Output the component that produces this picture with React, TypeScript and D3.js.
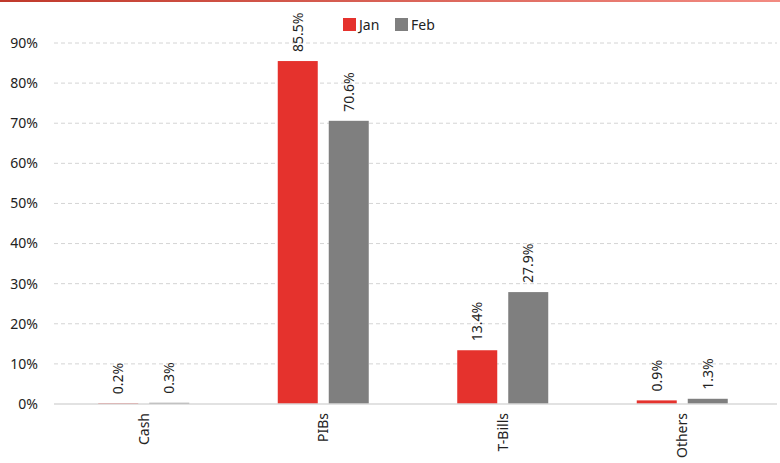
import React from "react";
import * as d3 from "d3";

const categories = ["Cash", "PIBs", "T-Bills", "Others"];
const seriesNames = ["Jan", "Feb"];
const janValues = [0.2, 85.5, 13.4, 0.9];
const febValues = [0.3, 70.6, 27.9, 1.3];
const yTicks = [0, 10, 20, 30, 40, 50, 60, 70, 80, 90];
const colors = ["#e5322d", "#7f7f7f"];

const W = 780;
const H = 463;
const m = { left: 54, right: 8, top: 43, bottom: 59 };
const gridRight = 777;

export default function App() {
  const x = d3.scaleBand().domain(categories).range([m.left, W - m.right]).padding(0);
  const y = d3.scaleLinear().domain([0, 90]).range([H - m.bottom, m.top]);
  const barW = 40;
  const gap = 11;
  const series = [janValues, febValues];
  const font = "'Noto Sans', sans-serif";
  const fs = 14;
  return (
    <svg width={W} height={H} style={{ position: "absolute", left: 0, top: 0 }} fontFamily={font}>
      <defs>
        <linearGradient id="topline" x1="0" x2="1" y1="0" y2="0">
          <stop offset="0" stopColor="#c0392b" />
          <stop offset="1" stopColor="#f28b82" />
        </linearGradient>
      </defs>
      <rect x={0} y={0} width={W} height={2} fill="url(#topline)" />
      {yTicks.map((t) => (
        <g key={t}>
          {t > 0 && (
            <line x1={m.left} x2={gridRight} y1={y(t)} y2={y(t)} stroke="#d4d4d4" strokeDasharray="4,3" />
          )}
          <text x={38} y={y(t)} dy="0.35em" textAnchor="end" fontSize={fs} fill="#222">
            {t}%
          </text>
        </g>
      ))}
      {categories.map((c, i) => {
        const cx = x(c)! + x.bandwidth() / 2;
        return (
          <g key={c}>
            {series.map((vals, s) => {
              const bx = s === 0 ? cx - gap / 2 - barW : cx + gap / 2;
              const v = vals[i];
              const top = y(v);
              return (
                <g key={s}>
                  <rect x={bx} y={top} width={barW} height={y(0) - top} fill={colors[s]} />
                  <text
                    transform={`translate(${bx + barW / 2},${top - 9}) rotate(-90)`}
                    dy="0.35em"
                    textAnchor="start"
                    fontSize={fs}
                    fill="#222"
                  >
                    {v.toFixed(1)}%
                  </text>
                </g>
              );
            })}
            <text
              transform={`translate(${cx},${y(0) + 9}) rotate(-90)`}
              dy="0.35em"
              textAnchor="end"
              fontSize={fs}
              fill="#222"
            >
              {c}
            </text>
          </g>
        );
      })}
      <line x1={m.left} x2={gridRight} y1={y(0)} y2={y(0)} stroke="#d9d9d9" strokeWidth={1.5} />
      {seriesNames.map((n, s) => (
        <g key={n} transform={`translate(343,24)`}>
          <g transform={`translate(${s * 52},0)`}>
            <rect x={0} y={-6} width={13} height={13} fill={colors[s]} />
            <text x={16} dy="0.4em" fontSize={fs} fill="#222">
              {n}
            </text>
          </g>
        </g>
      ))}
    </svg>
  );
}
